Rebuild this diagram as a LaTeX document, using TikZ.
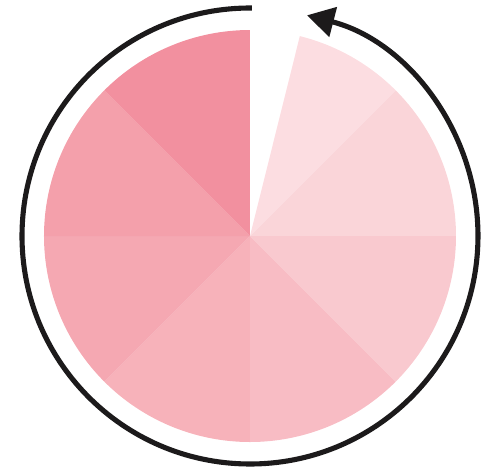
\documentclass[tikz,border=0pt]{standalone}
\usetikzlibrary{arrows.meta}
\definecolor{sliceA}{HTML}{FCDDE1}
\definecolor{sliceB}{HTML}{FAD5D9}
\definecolor{sliceC}{HTML}{F9C9CF}
\definecolor{sliceD}{HTML}{F8BCC4}
\definecolor{sliceE}{HTML}{F7B2BA}
\definecolor{sliceF}{HTML}{F5A8B2}
\definecolor{sliceG}{HTML}{F4A0AB}
\definecolor{sliceH}{HTML}{F2909F}
\definecolor{ringcol}{HTML}{1C1A1B}
\begin{document}
\begin{tikzpicture}[x=0.02cm,y=0.02cm]
        \useasboundingbox (-250,-232) rectangle (244,236);
        \coordinate (O) at (0,0); % centre of the pie, radius 206

        % first slice, cut short at the top (gap from 90 to 76 degrees)
        \fill[sliceA] (O) -- (76:206) arc[start angle=76, end angle=45, radius=206] -- cycle;

        % the other seven slices, 45 degrees each, going clockwise
        \foreach \a/\c in {45/sliceB, 0/sliceC, -45/sliceD, -90/sliceE, -135/sliceF, -180/sliceG, -225/sliceH}
            \fill[\c] (O) -- (\a:206) arc[start angle=\a, end angle=\a-45, radius=206] -- cycle;

        % ring with arrow, counter-clockwise from the top
        \draw[ringcol, line width=2.9pt, -{Triangle[length=0.54cm, width=0.6cm]}]
            (89.5:228) arc[start angle=89.5, end angle=435.5, radius=228];

    \end{tikzpicture}
\end{document}
